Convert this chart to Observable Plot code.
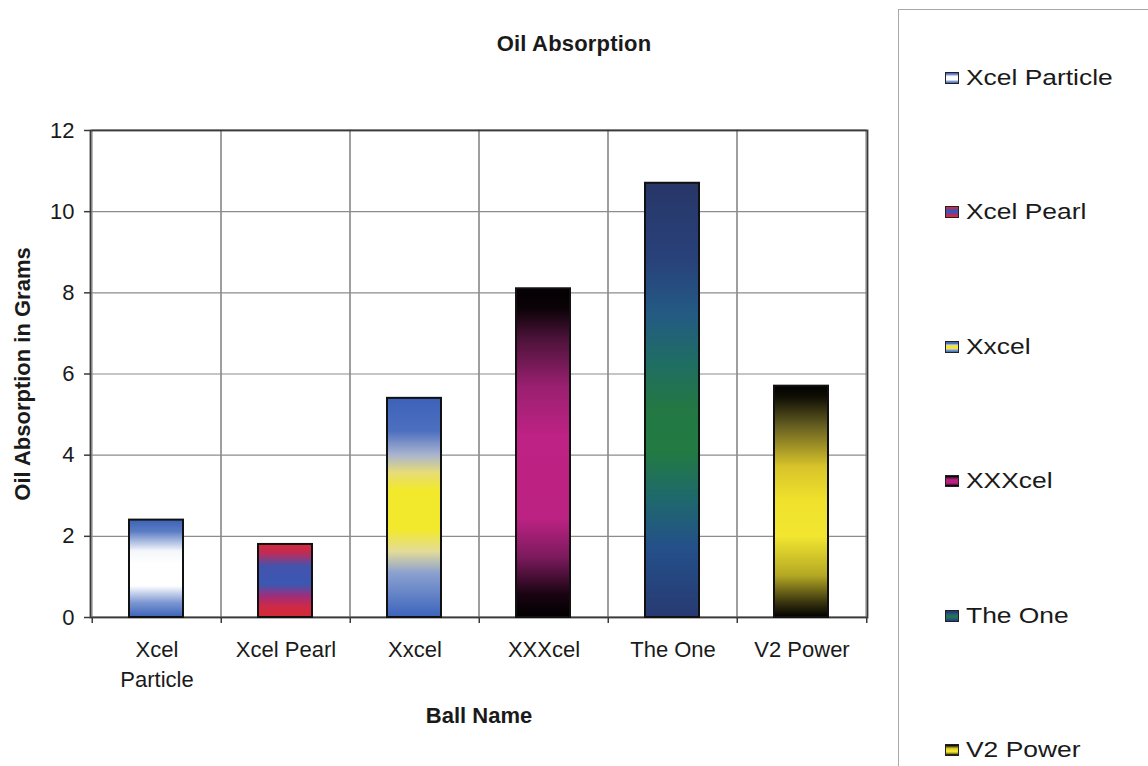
<!DOCTYPE html>
<html>
<head>
<meta charset="utf-8">
<script src="https://cdn.jsdelivr.net/npm/d3@7"></script>
<script src="https://cdn.jsdelivr.net/npm/@observablehq/plot@0.6"></script>
<style>
  html, body { margin: 0; padding: 0; background: #fff; }
  #wrap { position: relative; width: 1148px; height: 766px; overflow: hidden; background: #fff; font-family: "Liberation Sans", Arial, sans-serif; color: #1a1a1a; }
  #title { position: absolute; left: 0; top: 30px; width: 1148px; text-align: center; font-weight: bold; font-size: 22px; letter-spacing: 0.2px; line-height: 28px; }
  #chart { position: absolute; left: 0; top: 80px; }
  #legend { position: absolute; left: 898px; top: 9px; width: 260px; height: 780px; border-left: 1.5px solid #a8a8a8; border-top: 1.5px solid #a8a8a8; }
  .item { position: absolute; left: 46px; height: 28px; display: flex; align-items: center; font-size: 22px; white-space: nowrap; }
  .item span { display: inline-block; transform: scaleX(1.2); transform-origin: left center; }
  .sw { width: 12px; height: 10px; border: 1.5px solid #222; margin-right: 7px; }
</style>
</head>
<body>
<div id="wrap">
  <div id="title">Oil Absorption</div>
  <div id="chart"></div>
  <div id="legend"></div>
</div>
<script>
const categories = ["Xcel Particle", "Xcel Pearl", "Xxcel", "XXXcel", "The One", "V2 Power"];
const values = [2.4, 1.8, 5.4, 8.1, 10.7, 5.7];
const tickLabels = ["Xcel\nParticle", "Xcel Pearl", "Xxcel", "XXXcel", "The One", "V2 Power"];
const yTicks = [0, 2, 4, 6, 8, 10, 12];
const gradientStops = [
  [[0, "#3e63b6"], [0.12, "#5a7cc4"], [0.32, "#f4f6fb"], [0.45, "#ffffff"], [0.68, "#ffffff"], [0.85, "#7d98d2"], [1, "#3d63b8"]],
  [[0, "#d32a3a"], [0.12, "#c22a55"], [0.3, "#4453ad"], [0.55, "#3b58b2"], [0.72, "#a22c78"], [0.86, "#cf2a45"], [1, "#d42a38"]],
  [[0, "#3c62b8"], [0.15, "#4d6fc0"], [0.26, "#a9b4cf"], [0.34, "#e6dc78"], [0.42, "#f2e82c"], [0.6, "#f2e82c"], [0.7, "#e3dc98"], [0.8, "#8aa0d0"], [1, "#3c64bc"]],
  [[0, "#050003"], [0.06, "#0a0206"], [0.15, "#4a1238"], [0.3, "#9a2070"], [0.45, "#be2284"], [0.7, "#bc2282"], [0.82, "#7a1a5c"], [0.93, "#1a0412"], [1, "#000000"]],
  [[0, "#283668"], [0.18, "#28427a"], [0.3, "#245a84"], [0.42, "#1f6e62"], [0.52, "#237843"], [0.62, "#237a42"], [0.72, "#1e6a6a"], [0.84, "#24508a"], [1, "#283a72"]],
  [[0, "#000000"], [0.05, "#100f05"], [0.18, "#6a6222"], [0.35, "#d8c42a"], [0.5, "#f0e22c"], [0.65, "#f2e630"], [0.82, "#b4a824"], [0.93, "#403a10"], [1, "#000000"]]
];

const data = categories.map((name, i) => ({name, value: values[i], label: tickLabels[i]}));

const W = 895, H = 686, mL = 90, mR = 28, mT = 50, mB = 149;
const step = (W - mL - mR) / categories.length;
const font = "'Liberation Sans', Arial, sans-serif";

const plot = Plot.plot({
  width: W, height: H,
  marginLeft: mL, marginRight: mR, marginTop: mT, marginBottom: mB,
  style: {fontFamily: font, fontSize: "22px", color: "#1a1a1a", background: "white", overflow: "visible"},
  x: {type: "band", domain: categories, padding: 0, axis: null},
  y: {domain: [0, 12], axis: null},
  marks: [
    Plot.ruleY(yTicks, {stroke: "#8c8c8c", strokeWidth: 1.2}),
    Plot.barY(categories, {x: d => d, y1: 0, y2: 12, fill: "none", stroke: "#8c8c8c", strokeWidth: 1.2}),
    Plot.frame({stroke: "#3a3a3a", strokeWidth: 1.8}),
    Plot.axisY({ticks: yTicks, tickSize: 6, tickFormat: () => "", label: null, stroke: "#3a3a3a", strokeWidth: 1.5}),
    Plot.text(yTicks, {y: d => d, text: d => String(d), frameAnchor: "left", dx: -16, textAnchor: "end", fontSize: 22, fill: "#1a1a1a"}),
    Plot.ruleX(categories, {x: d => d, dx: -step / 2, y1: 0, y2: -0.15, stroke: "#3a3a3a", strokeWidth: 1.5}),
    Plot.ruleX(categories.slice(-1), {x: d => d, dx: step / 2, y1: 0, y2: -0.15, stroke: "#3a3a3a", strokeWidth: 1.5}),
    Plot.barY(data, {x: "name", y: "value", stroke: "#111", strokeWidth: 2, insetLeft: 37, insetRight: 38, fill: "#888"}),
    Plot.text(data, {x: "name", y: 0, text: "label", dy: 18, lineAnchor: "top", lineHeight: 1.36, fontSize: 22, fill: "#1a1a1a"}),
    Plot.text(["Oil Absorption in Grams"], {frameAnchor: "left", dx: -68, rotate: -90, textAnchor: "middle", fontWeight: "bold", fontSize: 22, fill: "#1a1a1a"}),
    Plot.text(["Ball Name"], {frameAnchor: "bottom", dy: 105, fontWeight: "bold", fontSize: 22, fill: "#1a1a1a"})
  ]
});

// gradient definitions
const svg = d3.select(plot);
const defs = svg.insert("defs", ":first-child");
gradientStops.forEach((stops, i) => {
  const g = defs.append("linearGradient").attr("id", "grad" + i)
    .attr("x1", 0).attr("y1", 0).attr("x2", 0).attr("y2", 1);
  stops.forEach(([o, c]) => g.append("stop").attr("offset", o).attr("stop-color", c));
});
const barGroups = svg.selectAll('g[aria-label="bar"]').nodes();
d3.select(barGroups[barGroups.length - 1]).selectAll("rect").attr("fill", (d, i) => `url(#grad${i})`);

document.getElementById("chart").appendChild(plot);

// legend
const legend = document.getElementById("legend");
categories.forEach((name, i) => {
  const item = document.createElement("div");
  item.className = "item";
  item.style.top = (54 + i * 134.4) + "px";
  const sw = document.createElement("div");
  sw.className = "sw";
  sw.style.background = "linear-gradient(to bottom, " + gradientStops[i].map(([o, c]) => `${c} ${o * 100}%`).join(", ") + ")";
  const t = document.createElement("span");
  t.textContent = name;
  item.appendChild(sw);
  item.appendChild(t);
  legend.appendChild(item);
});
</script>
</body>
</html>
